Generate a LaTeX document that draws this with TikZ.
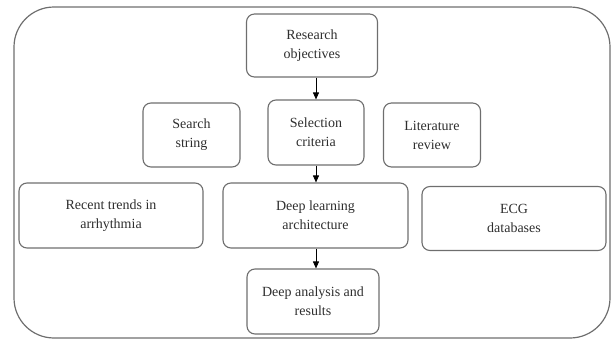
\documentclass[tikz,border=0pt]{standalone}
\usepackage{fontspec}
\setmainfont{Liberation Serif}
\usetikzlibrary{arrows.meta}
\definecolor{edgegray}{HTML}{6E6E6E}
\definecolor{textgray}{HTML}{2E2E2E}
\begin{document}
\begin{tikzpicture}[x=1pt,y=-1pt,
  stagebox/.style={draw=edgegray, line width=1.1pt, rounded corners=8pt,
    align=center, inner sep=0pt, text=textgray,
    font=\fontsize{14}{19}\selectfont},
  flow/.style={draw=black, line width=0.9pt, -{Triangle[length=7pt,width=6pt]}}]
  \useasboundingbox (0,0) rectangle (614,340);
  % outer frame
  \draw[edgegray, line width=1.2pt, rounded corners=40pt] (14,7) rectangle (610,338);
  % stages
  \node[stagebox, minimum width=131pt, minimum height=63pt] (ro) at (312,45.5) {Research\\objectives};
  \node[stagebox, minimum width=97pt, minimum height=64pt] (ss) at (191.5,135) {Search\\string};
  \node[stagebox, minimum width=96pt, minimum height=65pt] (sc) at (316,132.5) {Selection\\criteria};
  \node[stagebox, minimum width=97pt, minimum height=64pt] (lr) at (432,135) {Literature\\review};
  \node[stagebox, minimum width=184pt, minimum height=65pt] (rt) at (111,215.5) {Recent trends in\\arrhythmia};
  \node[stagebox, minimum width=185pt, minimum height=65pt] (dl) at (315.5,215.5) {Deep learning\\architecture};
  \node[stagebox, minimum width=184pt, minimum height=64pt] (ecg) at (514,218.5) {ECG\\databases};
  \node[stagebox, minimum width=132pt, minimum height=65pt] (da) at (313,301.5) {Deep analysis and\\results};
  % flow arrows
  \draw[flow] (ro.south -| sc.north) -- (sc.north);
  \draw[flow] (sc.south) -- (sc.south |- dl.north);
  \draw[flow] (dl.south -| sc.south) -- (sc.south |- da.north);
\end{tikzpicture}
\end{document}
